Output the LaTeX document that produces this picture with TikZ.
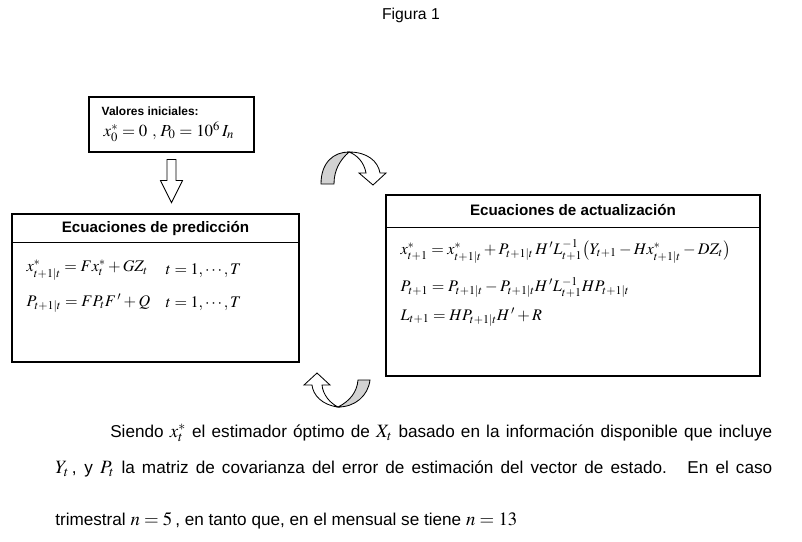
\documentclass[tikz,border=0pt]{standalone}
\usepackage{mathptmx}
\usepackage[no-math]{fontspec}
\setmainfont{Liberation Sans}
\usetikzlibrary{calc,positioning}
\newcommand{\bodymath}[1]{{\fontsize{13.4}{14}\selectfont$#1$}}
\tikzset{
  eqbox/.style={draw=black,line width=0.8pt,rectangle,inner sep=0pt},
  titletext/.style={font=\fontsize{10.8}{13}\selectfont\bfseries,inner sep=0pt},
  eqtext/.style={font=\fontsize{11.5}{14}\selectfont,inner sep=0pt,anchor=west},
  bodytext/.style={font=\fontsize{12.2}{14}\selectfont,inner sep=0pt,anchor=west},
  blockarrow/.style={draw=black,line width=0.6pt,fill=white,line join=miter},
  backside/.style={draw=black,line width=0.6pt,fill=gray!35},
}

\begin{document}
\begin{tikzpicture}[x=0.25mm,y=-0.25mm]
  \useasboundingbox (0,0) rectangle (802,541);
  \node[font=\fontsize{11.2}{13}\selectfont] (fig) at (411,15) {Figura 1};

  % initial values
  \node[eqbox,minimum width=41.25mm,minimum height=13.75mm] (init) at (171.5,124.5) {};
  \node[font=\fontsize{8.5}{10}\selectfont\bfseries,inner sep=0pt,anchor=west]
    (inittitle) at ($(init.north west)+(13,15)$) {Valores iniciales:};
  \node[eqtext,font=\fontsize{12}{14}\selectfont] (initeq) at ($(init.north west)+(15,35)$)
    {$x^{*}_{0}=0\ ,\,P_{0}=10^{6}\,I_{n}$};
  \draw[blockarrow] (init.south) ++(-4.5,7) -- ++(0,21) -- ++(-6.5,0) -- ++(11,22)
    -- ++(11,-22) -- ++(-6.5,0) -- ++(0,-21) -- cycle;

  % prediction
  \node[eqbox,minimum width=71.75mm,minimum height=37mm] (pred) at (155.5,288) {};
  \node[titletext] (predtitle) at ($(pred.north)+(0,15)$) {Ecuaciones de predicción};
  \draw[line width=0.8pt] ($(pred.north west)+(0,29)$) -- ($(pred.north east)+(0,29)$);
  \node[eqtext] (pe1) at ($(pred.north west)+(15,57)$)
    {$x^{*}_{t+1|t}=Fx^{*}_{t}+GZ_{t}$};
  \node[eqtext] (pe2) at ($(pred.north west)+(15,90)$)
    {$P_{t+1|t}=FP_{t}F^{\,\prime}+Q$};
  \node[eqtext] (pe1r) at ($(pred.north west)+(154,57)$) {$t=1,\cdots,T$};
  \node[eqtext] (pe2r) at ($(pred.north west)+(154,90)$) {$t=1,\cdots,T$};

  % update
  \node[eqbox,minimum width=93.5mm,minimum height=45.25mm] (upd) at (573,285.5) {};
  \node[titletext] (updtitle) at ($(upd.north)+(0,16)$) {Ecuaciones de actualización};
  \draw[line width=0.8pt] ($(upd.north west)+(0,33)$) -- ($(upd.north east)+(0,33)$);
  \node[eqtext] (ue1) at ($(upd.north west)+(15,57)$)
    {$x^{*}_{t+1}=x^{*}_{t+1|t}+P_{t+1|t}\,H^{\,\prime}L^{-1}_{t+1}\bigl(Y_{t+1}-Hx^{*}_{t+1|t}-DZ_{t}\bigr)$};
  \node[eqtext] (ue2) at ($(upd.north west)+(15,93)$)
    {$P_{t+1}=P_{t+1|t}-P_{t+1|t}H^{\,\prime}L^{-1}_{t+1}HP_{t+1|t}$};
  \node[eqtext] (ue3) at ($(upd.north west)+(15,123)$)
    {$L_{t+1}=HP_{t+1|t}H^{\,\prime}+R$};

  % curved arrows
  \draw[backside] (321,184) .. controls (321,162) and (334,152) .. (349,152)
    .. controls (340,160) and (334,170) .. (334,184) -- cycle;
  \draw[blockarrow] (349,152) .. controls (367,152) and (378,161) .. (380,173)
    -- (386,173) -- (373,185) -- (359,173) -- (366,173)
    .. controls (364,162) and (357,155) .. (349,152) -- cycle;
  \draw[backside] (358,380) -- (370,380) .. controls (368,396) and (355,407) .. (338,407)
    .. controls (350,401) and (357,392) .. (358,380) -- cycle;
  \draw[blockarrow] (338,407) .. controls (322,405) and (313,395) .. (312,385)
    -- (304,385) -- (317,373) -- (330,385) -- (322,385)
    .. controls (323,395) and (330,403) .. (338,407) -- cycle;

  % text below
  \node[bodytext] (line1) at (110,433) {\makebox[165.5mm][s]{Siendo \bodymath{x^{*}_{t}} el estimador óptimo de \bodymath{X_{t}} basado en la información disponible que incluye}};
  \node[bodytext] (line2) at (55,469) {\makebox[179.25mm][s]{\bodymath{Y_{t}}\,, y \bodymath{P_{t}} la matriz de covarianza del error de estimación del vector de estado. \ En el caso}};
  \node[bodytext] (line3) at (55,521) {trimestral \bodymath{n=5}\,, en tanto que, en el mensual se tiene \bodymath{n=13}};
\end{tikzpicture}
\end{document}
